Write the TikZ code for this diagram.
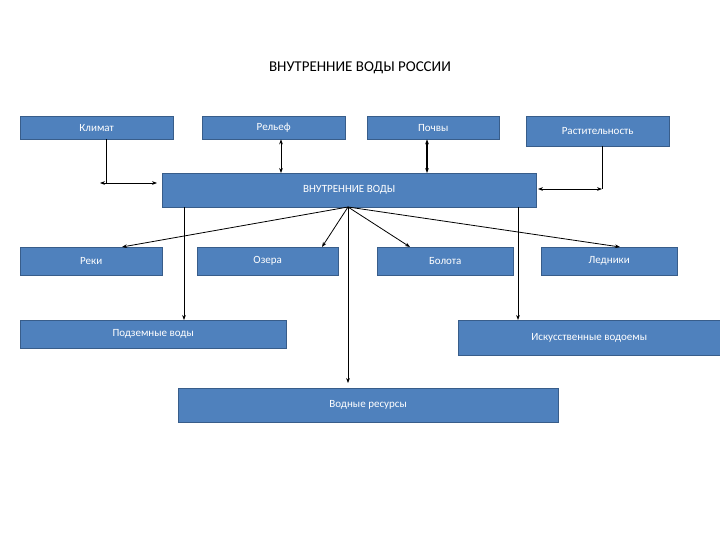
\documentclass[tikz,border=0pt]{standalone}
\usepackage{fontspec}
\setmainfont{Carlito}
\usetikzlibrary{arrows.meta}
\definecolor{boxblue}{HTML}{4F81BD}
\definecolor{boxline}{HTML}{385D8A}
\begin{document}
\begin{tikzpicture}[
        x=1pt, y=-1pt,
        font=\fontsize{11}{13}\selectfont,
        bloc/.style={rectangle, draw=boxline, fill=boxblue, text=white, inner sep=0pt},
        conector/.style={-{Stealth[length=5pt]}, thick},
        duplo/.style={{Stealth[length=5pt]}-{Stealth[length=5pt]}, thick}
    ]
    \useasboundingbox (0,0) rectangle (720,540);
    \node[font=\fontsize{15}{18}\selectfont] (titulo) at (360,68) {ВНУТРЕННИЕ ВОДЫ РОССИИ};

    % top row
    \node[bloc, minimum width=153, minimum height=23, anchor=north west] (klimat) at (20,116) {Климат};
    \node[bloc, minimum width=143, minimum height=23, anchor=north west] (relef) at (202,116) {Рельеф};
    \node[bloc, minimum width=132, minimum height=23, anchor=north west] (pochvy) at (367,116) {Почвы};
    \node[bloc, minimum width=143, minimum height=30, anchor=north west] (rast) at (526,116) {Растительность};

    % centre
    \node[bloc, minimum width=374, minimum height=34, anchor=north west] (vody) at (162,173) {ВНУТРЕННИЕ ВОДЫ};

    % middle row
    \node[bloc, minimum width=142, minimum height=28, anchor=north west] (reki) at (20,247) {Реки};
    \node[bloc, minimum width=141, minimum height=28, anchor=north west] (ozera) at (197,247) {Озера};
    \node[bloc, minimum width=136, minimum height=28, anchor=north west] (bolota) at (377,247) {Болота};
    \node[bloc, minimum width=136, minimum height=28, anchor=north west] (ledniki) at (541,247) {Ледники};

    % lower rows
    \node[bloc, minimum width=266, minimum height=28, anchor=north west] (podzem) at (20,320) {Подземные воды};
    \node[bloc, minimum width=262, minimum height=35, anchor=north west] (iskus) at (458,320) {Искусственные водоемы};
    \node[bloc, minimum width=380, minimum height=34, anchor=north west] (resursy) at (178,388) {Водные ресурсы};

    \coordinate (kl1) at (106,183);
    \coordinate (kl2) at (100,183);
    \coordinate (kl3) at (157,183);
    \coordinate (ra1) at (602,189);
    \coordinate (ra2) at (538,189);
    \coordinate (hub) at (348,207);

    % --- CONECTORES ---
    \draw[thick] (klimat.south -| kl1) -- (kl1);
    \draw[duplo] (kl2) -- (kl3);
    \draw[duplo] (relef.south -| 281,0) -- (vody.north -| 281,0);
    \draw[duplo, very thick] (pochvy.south -| 427,0) -- (vody.north -| 427,0);
    \draw[thick] (rast.south -| ra1) -- (ra1);
    \draw[duplo] (ra2) -- (ra1);
    \draw[conector] (hub) -- (reki.north -| 122,0);
    \draw[conector] (hub) -- (ozera.north -| 322,0);
    \draw[conector] (hub) -- (bolota.north -| 410,0);
    \draw[conector] (hub) -- (ledniki.north -| 620,0);
    \draw[conector] (vody.south -| 184,0) -- (podzem.north -| 184,0);
    \draw[conector] (vody.south -| 518,0) -- (iskus.north -| 518,0);
    \draw[conector, semithick] (hub) -- (348,383);
\end{tikzpicture}
\end{document}
